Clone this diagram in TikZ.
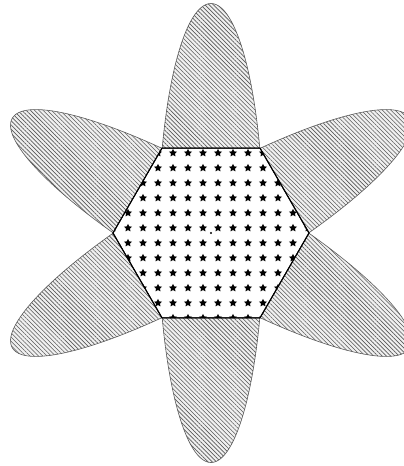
\documentclass[tikz,border=0pt]{standalone}
\usetikzlibrary{patterns.meta,shapes.geometric}
\begin{document}
\begin{tikzpicture}[x=1pt, y=1pt, line join=round, line cap=round,
		petal/.style={draw=gray!70!black, line width=0.6pt, preaction={fill=gray!12},
			pattern={Lines[angle=-45, distance=3pt, line width=0.6pt]}, pattern color=gray!70!black},
		starmark/.style={star, star points=5, star point ratio=2.1, fill=black, inner sep=0pt, minimum size=8.5pt}]
			\useasboundingbox (-211,-233) rectangle (193,233);
			\coordinate (c) at (0,0);
			% the three long ellipses
			\foreach \a in {0,60,120}
				\draw[petal, rotate=\a] (c) ellipse [x radius=52.5, y radius=229.5];
			% the hexagon with its star grid
			\draw[line width=1pt, fill=white] (0:98) -- (60:98) -- (120:98) -- (180:98) -- (240:98) -- (300:98) -- cycle;
			\begin{scope}
				\clip (0:98) -- (60:98) -- (120:98) -- (180:98) -- (240:98) -- (300:98) -- cycle;
				\foreach \i in {-6,...,7}
					\foreach \j in {-6,...,6}
						\node[starmark] (s\i\j) at ({-8+15*\i},{5-15*\j}) {};
			\end{scope}
			\draw[line width=1pt] (0:98) -- (60:98) -- (120:98) -- (180:98) -- (240:98) -- (300:98) -- cycle;
			\fill (c) circle (1.2pt);
		\end{tikzpicture}
\end{document}
